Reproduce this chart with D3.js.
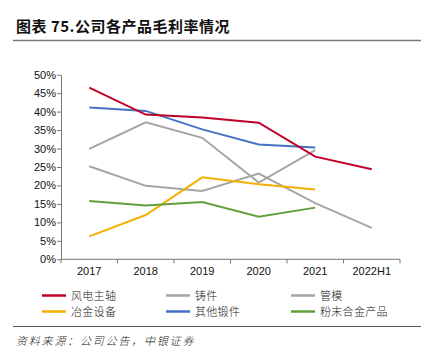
<!DOCTYPE html>
<html>
<head>
<meta charset="utf-8">
<script src="https://cdn.jsdelivr.net/npm/d3@7"></script>
<style>
  body { margin: 0; background: #fff; }
  svg text { font-family: "Liberation Sans", Arial, sans-serif; }
  .cjk { font-family: "Noto Sans CJK SC", sans-serif; }
</style>
</head>
<body>
<div id="chart"></div>
<script>
var years = ["2017", "2018", "2019", "2020", "2021", "2022H1"];
var yTicks = [0, 5, 10, 15, 20, 25, 30, 35, 40, 45, 50];

var spindle = [46.5, 39.2, 38.4, 37.0, 27.8, 24.4];   // 风电主轴
var casting = [25.2, 19.9, 18.5, 23.2, 15.2, 8.5];    // 铸件
var pipeMold = [29.9, 37.1, 32.9, 20.8, 29.6, null];  // 管模
var metallurgy = [6.2, 12.0, 22.2, 20.3, 18.9, null]; // 冶金设备
var otherForging = [41.1, 40.2, 35.2, 31.1, 30.3, null]; // 其他锻件
var powder = [15.8, 14.6, 15.5, 11.5, 14.0, null];   // 粉末合金产品

var series = [
  {name: "风电主轴", values: spindle, color: "#C00026"},
  {name: "铸件", values: casting, color: "#A5A5A5"},
  {name: "管模", values: pipeMold, color: "#A5A5A5"},
  {name: "冶金设备", values: metallurgy, color: "#F2B200"},
  {name: "其他锻件", values: otherForging, color: "#4472C4"},
  {name: "粉末合金产品", values: powder, color: "#62A03C"}
];

var width = 439, height = 362;
var svg = d3.select("#chart").append("svg").attr("width", width).attr("height", height);

// title
svg.append("text").attr("class", "cjk")
  .attr("x", 16).attr("y", 32)
  .attr("font-size", 15).attr("font-weight", "bold").attr("fill", "#111")
  .attr("letter-spacing", 0.5)
  .text("图表 75.公司各产品毛利率情况");
svg.append("line").attr("x1", 13).attr("x2", 421).attr("y1", 40.5).attr("y2", 40.5)
  .attr("stroke", "#777").attr("stroke-width", 1.5);

var margin = {left: 61, right: 39, top: 74.7},
    plotW = 400 - 61,
    plotH = 259.3 - 74.7;

var g = svg.append("g").attr("transform", "translate(" + margin.left + "," + margin.top + ")");

var x = d3.scaleBand().domain(years).range([0, plotW]);
var y = d3.scaleLinear().domain([0, 50]).range([plotH, 0]);

// y axis
var yAxis = d3.axisLeft(y).tickValues(yTicks).tickSize(4).tickSizeOuter(0)
  .tickFormat(function(d) { return d + "%"; });
var ya = g.append("g").call(yAxis);
ya.selectAll("text").attr("font-size", 11).attr("fill", "#111").attr("x", -5);
ya.selectAll("line, path").attr("stroke", "#777");

// x axis with ticks at category boundaries
var xa = g.append("g").attr("transform", "translate(0," + plotH + ")");
xa.append("line").attr("x1", 0).attr("x2", plotW).attr("stroke", "#777");
xa.selectAll(".tk").data(d3.range(years.length + 1)).enter().append("line")
  .attr("x1", function(i) { return i * x.step(); })
  .attr("x2", function(i) { return i * x.step(); })
  .attr("y1", 0).attr("y2", 4).attr("stroke", "#777");
xa.selectAll(".lb").data(years).enter().append("text")
  .attr("x", function(d) { return x(d) + x.bandwidth() / 2; })
  .attr("y", 16).attr("text-anchor", "middle")
  .attr("font-size", 11).attr("fill", "#111")
  .text(function(d) { return d; });

var line = d3.line()
  .defined(function(d) { return d != null; })
  .x(function(d, i) { return x(years[i]) + x.bandwidth() / 2; })
  .y(function(d) { return y(d); });

// draw grays first so colored lines sit above
var order = [2, 1, 3, 5, 4, 0];
order.forEach(function(k) {
  var s = series[k];
  g.append("path").datum(s.values)
    .attr("fill", "none").attr("stroke", s.color).attr("stroke-width", 2)
    .attr("d", line);
});

// legend
var colX = [42, 166, 291], rowY = [295.5, 311.5];
var lg = svg.append("g");
series.forEach(function(s, i) {
  var cx = colX[i % 3], cy = rowY[Math.floor(i / 3)];
  lg.append("line").attr("x1", cx).attr("x2", cx + 24).attr("y1", cy).attr("y2", cy)
    .attr("stroke", s.color).attr("stroke-width", 2.5);
  lg.append("text").attr("class", "cjk").attr("x", cx + 29).attr("y", cy + 4)
    .attr("font-size", 11).attr("font-weight", 300).attr("fill", "#222")
    .attr("letter-spacing", 0.3).text(s.name);
});

svg.append("line").attr("x1", 13).attr("x2", 421).attr("y1", 326.5).attr("y2", 326.5)
  .attr("stroke", "#555").attr("stroke-width", 1.2);

svg.append("text").attr("class", "cjk")
  .attr("x", 16).attr("y", 345)
  .attr("font-size", 11).attr("font-style", "italic").attr("font-weight", 300)
  .attr("fill", "#222").attr("letter-spacing", 1.8)
  .text("资料来源：公司公告，中银证券");
</script>
</body>
</html>
